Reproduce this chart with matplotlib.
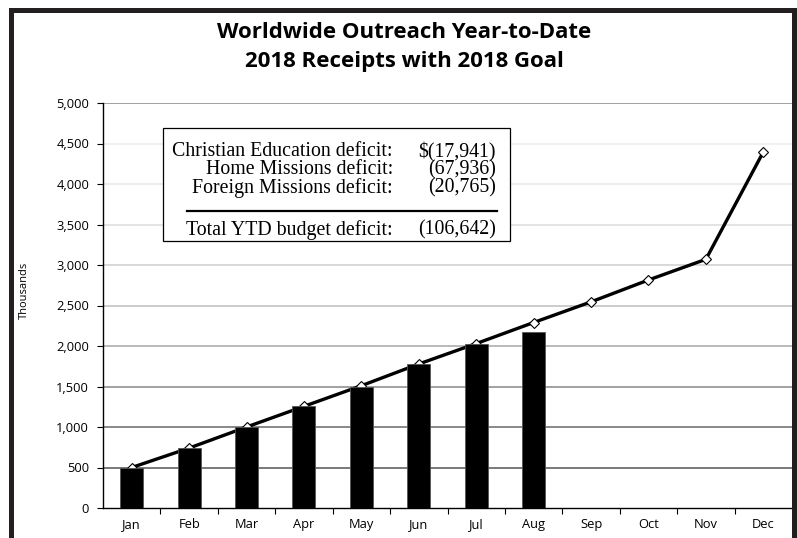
import matplotlib
matplotlib.use('Agg')
import matplotlib.pyplot as plt
from matplotlib.lines import Line2D
from matplotlib.patches import Rectangle

months = ['Jan', 'Feb', 'Mar', 'Apr', 'May', 'Jun', 'Jul', 'Aug', 'Sep', 'Oct', 'Nov', 'Dec']
receipts = [500, 746, 1005, 1260, 1494, 1773, 2020, 2175]
goal = [500, 740, 1000, 1255, 1510, 1778, 2030, 2290, 2545, 2815, 3070, 4395]
y_ticks = [0, 500, 1000, 1500, 2000, 2500, 3000, 3500, 4000, 4500, 5000]
grid_greys = ['#000000', '#6e6e6e', '#808080', '#9a9a9a', '#b4b4b4', '#c8c8c8',
              '#d6d6d6', '#e2e2e2', '#eaeaea', '#efefef', '#9a9a9a']

deficit_labels = ['Christian Education deficit:', 'Home Missions deficit:', 'Foreign Missions deficit:']
deficit_values = ['$(17,941)', '(67,936)', '(20,765)']
total_label = 'Total YTD budget deficit:'
total_value = '(106,642)'

sans = ['Open Sans', 'DejaVu Sans']
serif = ['Liberation Serif', 'DejaVu Serif']

fig = plt.figure(figsize=(7.97, 5.38), dpi=100)
ax = fig.add_axes([103 / 797, 1 - 508 / 538, 689 / 797, 405 / 538])

x = list(range(len(months)))

# gridlines fade toward the top
for yv, c in zip(y_ticks[1:], grid_greys[1:]):
    ax.axhline(yv, color=c, lw=1.3, zorder=0)

ax.plot(x, goal, color='black', lw=2.4, marker='D', ms=5,
        mfc='white', mec='black', mew=0.8, zorder=2)
ax.bar(x[:len(receipts)], receipts, width=0.4, color='black',
       edgecolor='#555555', lw=0.6, zorder=3)

ax.set_xlim(-0.5, 11.5)
ax.set_ylim(0, 5000)
ax.set_yticks(y_ticks)
ax.set_yticklabels([f'{v:,}' for v in y_ticks], family=sans, fontsize=9.3)
ax.set_xticks(x)
ax.set_xticklabels(months, family=sans, fontsize=9.3)
ax.set_xticks([i + 0.5 for i in range(11)], minor=True)
ax.tick_params(axis='x', which='major', length=0, pad=7)
ax.tick_params(axis='x', which='minor', length=4, width=0.8, direction='out')
ax.tick_params(axis='y', length=4, width=0.8, direction='out', pad=6)
for s in ['top', 'right']:
    ax.spines[s].set_visible(False)
ax.spines['left'].set_linewidth(1.0)
ax.spines['bottom'].set_linewidth(1.0)

fig.text(24 / 797, 1 - 290 / 538, 'Thousands', rotation=90, ha='center', va='center',
         family=sans, fontsize=8)

fig.text(404 / 797, 1 - 32 / 538, 'Worldwide Outreach Year-to-Date', ha='center', va='center',
         family=sans, fontsize=16, fontweight='bold')
fig.text(404 / 797, 1 - 62 / 538, '2018 Receipts with 2018 Goal', ha='center', va='center',
         family=sans, fontsize=16, fontweight='bold')

# deficit box
fig.add_artist(Rectangle((163 / 797, 1 - 241 / 538), 347 / 797, 113 / 538,
                         transform=fig.transFigure, facecolor='white',
                         edgecolor='black', lw=0.9, zorder=5))
rows_y = [152, 170, 188]
for lab, val, yy in zip(deficit_labels, deficit_values, rows_y):
    fig.text(393 / 797, 1 - yy / 538, lab, ha='right', va='center', family=serif,
             fontsize=14.3, zorder=6)
    fig.text(496 / 797, 1 - yy / 538, val, ha='right', va='center', family=serif,
             fontsize=14.3, zorder=6)
fig.add_artist(Line2D([187 / 797, 497 / 797], [1 - 211 / 538, 1 - 211 / 538],
                      transform=fig.transFigure, color='black', lw=1.6, zorder=6))
fig.text(393 / 797, 1 - 230 / 538, total_label, ha='right', va='center', family=serif,
         fontsize=14.3, zorder=6)
fig.text(496 / 797, 1 - 230 / 538, total_value, ha='right', va='center', family=serif,
         fontsize=14.3, zorder=6)

# outer frame (left, top, right)
frame = '#231f20'
fig.add_artist(Rectangle((9 / 797, 0), 5 / 797, 1 - 8 / 538, transform=fig.transFigure,
                         facecolor=frame, edgecolor='none'))
fig.add_artist(Rectangle((9 / 797, 1 - 13 / 538), 788 / 797, 5 / 538, transform=fig.transFigure,
                         facecolor=frame, edgecolor='none'))
fig.add_artist(Rectangle((792 / 797, 0), 5 / 797, 1 - 8 / 538, transform=fig.transFigure,
                         facecolor=frame, edgecolor='none'))

fig.savefig('out.png', dpi=100)
